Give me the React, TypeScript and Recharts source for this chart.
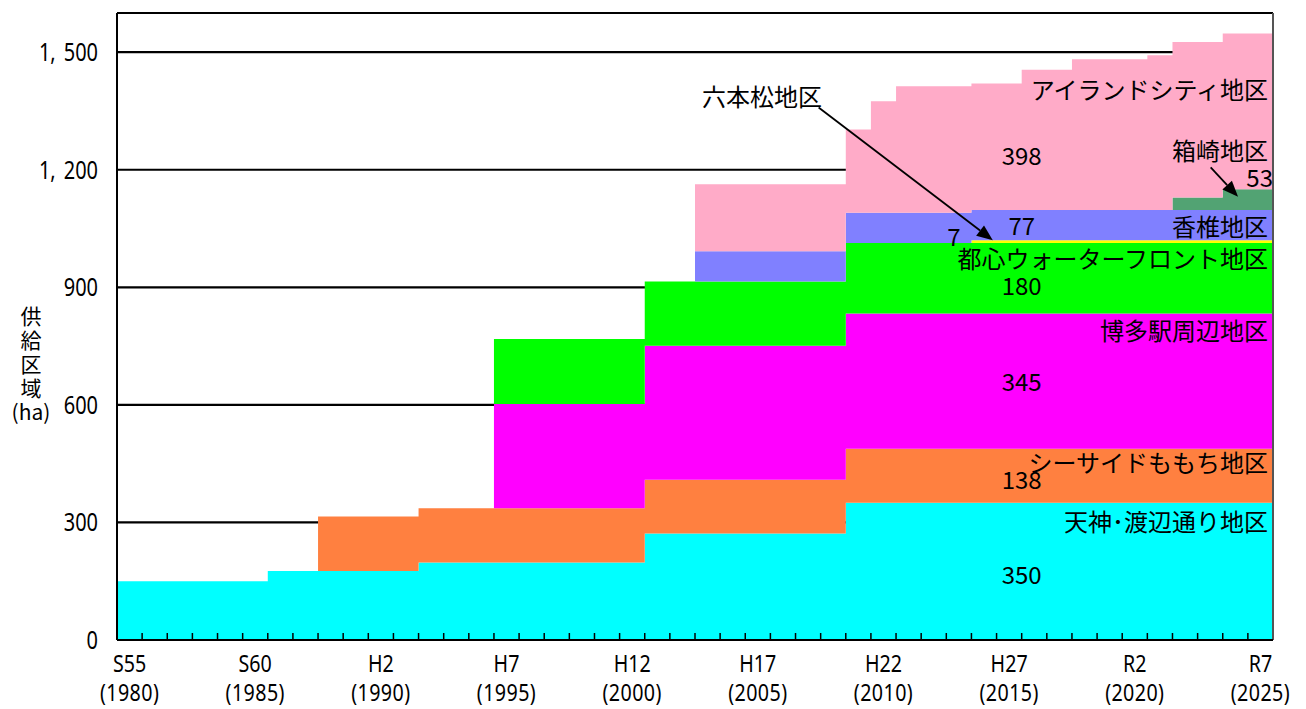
import React from "react";
import {
  AreaChart,
  Area,
  XAxis,
  YAxis,
  CartesianGrid,
  ReferenceLine,
  ReferenceDot,
} from "recharts";

// fiscal years, one band each
const YEARS = [
  1980, 1981, 1982, 1983, 1984, 1985, 1986, 1987, 1988, 1989,
  1990, 1991, 1992, 1993, 1994, 1995, 1996, 1997, 1998, 1999,
  2000, 2001, 2002, 2003, 2004, 2005, 2006, 2007, 2008, 2009,
  2010, 2011, 2012, 2013, 2014, 2015, 2016, 2017, 2018, 2019,
  2020, 2021, 2022, 2023, 2024, 2025,
];

// 供給区域 (ha) per district, bottom of the stack first
const TENJIN = [
  150, 150, 150, 150, 150, 150, 176, 176, 176, 176,
  176, 176, 198, 198, 198, 198, 198, 198, 198, 198,
  198, 272, 272, 272, 272, 272, 272, 272, 272, 350,
  350, 350, 350, 350, 350, 350, 350, 350, 350, 350,
  350, 350, 350, 350, 350, 350,
];
const MOMOCHI = [
  0, 0, 0, 0, 0, 0, 0, 0, 139, 139,
  139, 139, 138, 138, 138, 138, 138, 138, 138, 138,
  138, 137, 137, 137, 137, 137, 137, 137, 137, 138,
  138, 138, 138, 138, 138, 138, 138, 138, 138, 138,
  138, 138, 138, 138, 138, 138,
];
const HAKATA = [
  0, 0, 0, 0, 0, 0, 0, 0, 0, 0,
  0, 0, 0, 0, 0, 266, 266, 266, 266, 266,
  266, 342, 342, 342, 342, 342, 342, 342, 342, 345,
  345, 345, 345, 345, 345, 345, 345, 345, 345, 345,
  345, 345, 345, 345, 345, 345,
];
const WATERFRONT = [
  0, 0, 0, 0, 0, 0, 0, 0, 0, 0,
  0, 0, 0, 0, 0, 166, 166, 166, 166, 166,
  166, 164, 164, 164, 164, 164, 164, 164, 164, 180,
  180, 180, 180, 180, 180, 180, 180, 180, 180, 180,
  180, 180, 180, 180, 180, 180,
];
const ROPPONMATSU = [
  0, 0, 0, 0, 0, 0, 0, 0, 0, 0,
  0, 0, 0, 0, 0, 0, 0, 0, 0, 0,
  0, 0, 0, 0, 0, 0, 0, 0, 0, 0,
  0, 0, 0, 0, 7, 7, 7, 7, 7, 7,
  7, 7, 7, 7, 7, 7,
];
const KASHII = [
  0, 0, 0, 0, 0, 0, 0, 0, 0, 0,
  0, 0, 0, 0, 0, 0, 0, 0, 0, 0,
  0, 0, 0, 77, 77, 77, 77, 77, 77, 77,
  77, 77, 77, 77, 77, 77, 77, 77, 77, 77,
  77, 77, 77, 77, 77, 77,
];
const HAKOZAKI = [
  0, 0, 0, 0, 0, 0, 0, 0, 0, 0,
  0, 0, 0, 0, 0, 0, 0, 0, 0, 0,
  0, 0, 0, 0, 0, 0, 0, 0, 0, 0,
  0, 0, 0, 0, 0, 0, 0, 0, 0, 0,
  0, 0, 32, 32, 53, 53,
];
const ISLAND_CITY = [
  0, 0, 0, 0, 0, 0, 0, 0, 0, 0,
  0, 0, 0, 0, 0, 0, 0, 0, 0, 0,
  0, 0, 0, 171, 171, 171, 171, 171, 171, 213,
  285, 323, 323, 323, 323, 323, 358, 358, 385, 385,
  385, 395, 397, 397, 398, 398,
];

const ERA_LABELS = ["S55", "S60", "H2", "H7", "H12", "H17", "H22", "H27", "R2", "R7"];
const LABEL_YEARS = [1980, 1985, 1990, 1995, 2000, 2005, 2010, 2015, 2020, 2025];
const Y_TICKS = [0, 300, 600, 900, 1200, 1500];
const Y_TITLE = ["供", "給", "区", "域", "(ha)"];

const SERIES = [
  { key: "tenjin", name: "天神･渡辺通り地区", values: TENJIN, color: "#00FFFF" },
  { key: "momochi", name: "シーサイドももち地区", values: MOMOCHI, color: "#FF8040" },
  { key: "hakata", name: "博多駅周辺地区", values: HAKATA, color: "#FF00FF" },
  { key: "waterfront", name: "都心ウォーターフロント地区", values: WATERFRONT, color: "#00FF00" },
  { key: "ropponmatsu", name: "六本松地区", values: ROPPONMATSU, color: "#FFFF00" },
  { key: "kashii", name: "香椎地区", values: KASHII, color: "#8080FF" },
  { key: "hakozaki", name: "箱崎地区", values: HAKOZAKI, color: "#52A373" },
  { key: "island", name: "アイランドシティ地区", values: ISLAND_CITY, color: "#FFABC8" },
];

const rows: Record<string, number>[] = YEARS.map((year, i) => {
  const row: Record<string, number> = { year };
  SERIES.forEach((s) => (row[s.key] = s.values[i]));
  return row;
});
// closing edge of the last band for the step areas
rows.push({ ...rows[rows.length - 1], year: 2026 });

// in-plot annotations, in data coordinates
const NOTES = [
  { text: "アイランドシティ地区", x: 2026, y: 1403, anchor: "end", dx: -5 },
  { text: "箱崎地区", x: 2026, y: 1247, anchor: "end", dx: -5 },
  { text: "53", x: 2026, y: 1179, anchor: "end", dx: 0 },
  { text: "香椎地区", x: 2026, y: 1055, anchor: "end", dx: -5 },
  { text: "都心ウォーターフロント地区", x: 2026, y: 972, anchor: "end", dx: -5 },
  { text: "博多駅周辺地区", x: 2026, y: 788, anchor: "end", dx: -5 },
  { text: "シーサイドももち地区", x: 2026, y: 451, anchor: "end", dx: -5 },
  { text: "天神･渡辺通り地区", x: 2026, y: 301, anchor: "end", dx: -5 },
  { text: "六本松地区", x: 2003.28, y: 1385, anchor: "start", dx: 0 },
  { text: "398", x: 2016, y: 1235, anchor: "middle", dx: 0 },
  { text: "77", x: 2016, y: 1056, anchor: "middle", dx: 0 },
  { text: "7", x: 2013.3, y: 1028, anchor: "middle", dx: 0 },
  { text: "180", x: 2016, y: 903, anchor: "middle", dx: 0 },
  { text: "345", x: 2016, y: 658, anchor: "middle", dx: 0 },
  { text: "138", x: 2016, y: 408, anchor: "middle", dx: 0 },
  { text: "350", x: 2016, y: 167, anchor: "middle", dx: 0 },
];

const ARROWS = [
  { from: { x: 2007.92, y: 1359 }, to: { x: 2014.85, y: 1020 } },
  { from: { x: 2023.52, y: 1206 }, to: { x: 2024.61, y: 1131 } },
];

const JP = "'Noto Sans CJK JP', sans-serif";
const NUM = "'Noto Sans', sans-serif";
const BAND = 1156 / 46;

function YearTick(props: any) {
  const { x, y, payload } = props;
  const year = payload.value as number;
  const idx = LABEL_YEARS.indexOf(year);
  return (
    <g>
      {year > 1980 && year < 2026 && (
        <line x1={x} x2={x} y1={y} y2={y - 7} stroke="#000" strokeWidth={1.5} />
      )}
      {idx >= 0 && (
        <g transform={`translate(${x + BAND / 2},${y}) scale(0.82,1)`}>
          <text x={0} y={32} textAnchor="middle" fontFamily={NUM} fontSize={24} fill="#000">
            {ERA_LABELS[idx]}
          </text>
          <text x={0} y={61} textAnchor="middle" fontFamily={NUM} fontSize={24} fill="#000" letterSpacing={0.5}>
            ({year})
          </text>
        </g>
      )}
    </g>
  );
}

function ValueTick(props: any) {
  const { x, y, payload } = props;
  const parts = (payload.value as number).toLocaleString("en-US").split(",");
  return (
    <g transform={`translate(${x - 19},${y})`}>
      <text transform="scale(0.8,1)" textAnchor="end" y={9} fontFamily={NUM} fontSize={25} fill="#000">
        {parts.length > 1 ? (
          <>
            <tspan>{parts[0]},</tspan>
            <tspan dx={10}>{parts[1]}</tspan>
          </>
        ) : (
          parts[0]
        )}
      </text>
    </g>
  );
}

function Arrow(props: any) {
  const { x1, y1, x2, y2 } = props;
  const len = Math.hypot(x2 - x1, y2 - y1);
  const ux = (x2 - x1) / len;
  const uy = (y2 - y1) / len;
  const head = 16;
  const half = 6.5;
  const bx = x2 - ux * head;
  const by = y2 - uy * head;
  return (
    <g>
      <line x1={x1} y1={y1} x2={bx} y2={by} stroke="#000" strokeWidth={1.8} />
      <polygon
        points={`${x2},${y2} ${bx - uy * half},${by + ux * half} ${bx + uy * half},${by - ux * half}`}
        fill="#000"
      />
    </g>
  );
}

export default function App() {
  return (
    <div style={{ position: "absolute", left: 0, top: 0, width: 1306, height: 709, background: "#fff" }}>
      <AreaChart width={1306} height={709} data={rows} margin={{ top: 13, right: 33, bottom: 0, left: 0 }}>
        <CartesianGrid vertical={false} stroke="#000" strokeWidth={2.2} />
        {SERIES.map((s) => (
          <Area
            key={s.key}
            dataKey={s.key}
            name={s.name}
            stackId="area"
            type="stepAfter"
            fill={s.color}
            fillOpacity={1}
            stroke="none"
            dot={false}
            activeDot={false}
            isAnimationActive={false}
          />
        ))}
        <XAxis
          type="number"
          dataKey="year"
          domain={[1980, 2026]}
          ticks={[...YEARS, 2026]}
          interval={0}
          height={69}
          tickSize={0}
          tickMargin={0}
          tickLine={false}
          axisLine={{ stroke: "#000", strokeWidth: 2 }}
          tick={<YearTick />}
        />
        <YAxis
          type="number"
          domain={[0, 1600]}
          ticks={Y_TICKS}
          interval={0}
          width={117}
          tickSize={0}
          tickMargin={0}
          tickLine={false}
          axisLine={{ stroke: "#000", strokeWidth: 2 }}
          tick={<ValueTick />}
        />
        <ReferenceLine y={1600} stroke="#000" strokeWidth={2} />
        <ReferenceLine x={2026} stroke="#555" strokeWidth={2} />
        {ARROWS.map((a, i) => (
          <ReferenceLine key={i} segment={[a.from, a.to]} ifOverflow="visible" shape={<Arrow />} />
        ))}
        {NOTES.map((n) => (
          <ReferenceDot
            key={n.text}
            x={n.x}
            y={n.y}
            r={0}
            ifOverflow="visible"
            shape={(p: any) => (
              <text x={p.cx + n.dx} y={p.cy + 9} textAnchor={n.anchor} fontFamily={JP} fontSize={24} fill="#000">
                {n.text}
              </text>
            )}
          />
        ))}
        {Y_TITLE.map((ch, i) => (
          <text
            key={ch}
            x={31}
            y={324 + i * 24}
            textAnchor="middle"
            fontFamily={JP}
            fontSize={21}
            fill="#000"
          >
            {ch}
          </text>
        ))}
      </AreaChart>
    </div>
  );
}
